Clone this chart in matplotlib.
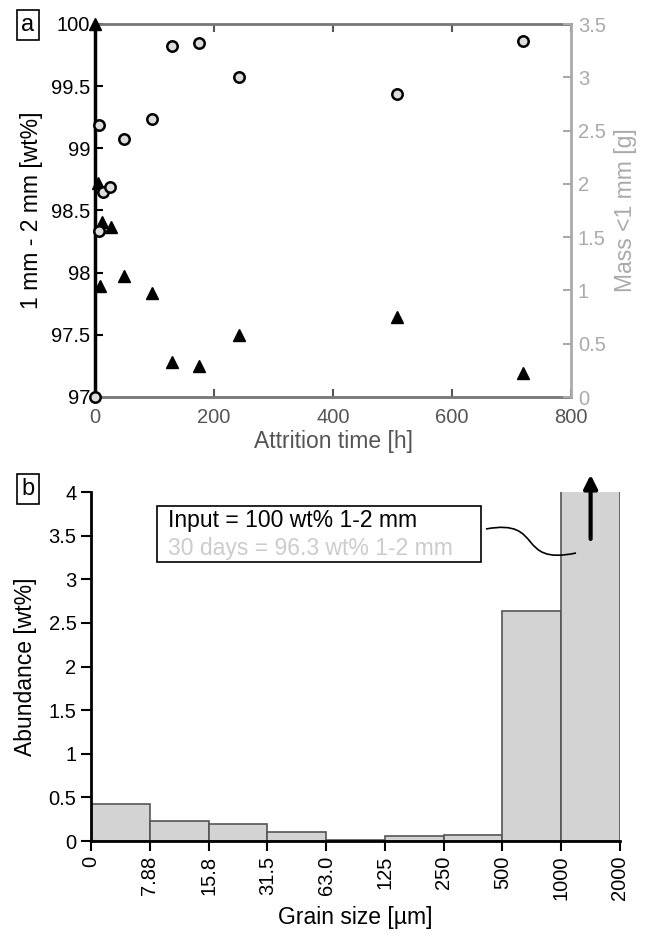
import numpy as np
import matplotlib
matplotlib.use('Agg')
import matplotlib.pyplot as plt
from matplotlib.path import Path
from matplotlib.patches import PathPatch, Rectangle
from matplotlib.ticker import FuncFormatter, MultipleLocator

plt.rcParams['font.family'] = ['Liberation Sans', 'DejaVu Sans']

# panel a: attrition series
time_wt = [0, 5, 8, 12, 27, 48, 96, 129, 175, 242, 507, 720]
wt_1to2 = [100.0, 98.72, 97.89, 98.41, 98.37, 97.97, 97.84, 97.28, 97.25, 97.50, 97.64, 97.19]
time_mass = [0, 7, 7, 13, 25, 48, 96, 129, 175, 242, 507, 720]
mass_lt1 = [0.0, 2.55, 1.56, 1.92, 1.97, 2.42, 2.61, 3.29, 3.32, 3.00, 2.84, 3.34]

# panel b: grain size distribution after 30 days
bin_edges = ['0', '7.88', '15.8', '31.5', '63.0', '125', '250', '500', '1000', '2000']
abundance = [0.42, 0.23, 0.20, 0.10, 0.01, 0.06, 0.07, 2.64, 96.3]
legend_lines = ['Input = 100 wt% 1-2 mm', '30 days = 96.3 wt% 1-2 mm']

W, H = 650, 938
fig = plt.figure(figsize=(W / 100, H / 100), dpi=100)

def fx(px):
    return px / W

def fy(py):
    return 1 - py / H

fmt = FuncFormatter(lambda v, p: '%g' % v)
tick_fs = 14.5
label_fs = 16.5
dark = '#555555'
light = '#aaaaaa'

# ---- panel a ----
ax = fig.add_axes([fx(95), fy(397), fx(571) - fx(95), fy(24) - fy(397)])
ax2 = ax.twinx()

ax.plot(time_wt, wt_1to2, '^', color='k', ms=8.5, clip_on=False, zorder=5)
ax2.plot(time_mass, mass_lt1, 'o', mfc='#dddddd', mec='k', mew=1.8, ms=7.5, clip_on=False, zorder=6)

ax.set_xlim(0, 800)
ax.set_ylim(97, 100)
ax2.set_ylim(0, 3.5)
ax.xaxis.set_major_locator(MultipleLocator(200))
ax.yaxis.set_major_locator(MultipleLocator(0.5))
ax2.yaxis.set_major_locator(MultipleLocator(0.5))
ax.yaxis.set_major_formatter(fmt)
ax2.yaxis.set_major_formatter(fmt)

ax.tick_params(axis='x', direction='in', top=True, length=6, width=1.5, colors=dark,
               labelsize=tick_fs, labelcolor=dark, pad=8)
ax.tick_params(axis='y', direction='in', length=6, width=1.5, color='k', labelsize=tick_fs)
ax2.tick_params(axis='y', direction='in', length=6, width=1.5, colors=light, labelsize=tick_fs,
                pad=5)

for s in ['top', 'bottom']:
    ax.spines[s].set_color('#777777')
    ax.spines[s].set_linewidth(2)
ax.spines['left'].set_color('k')
ax.spines['left'].set_linewidth(2.5)
ax.spines['right'].set_visible(False)
for s in ['top', 'bottom', 'left']:
    ax2.spines[s].set_visible(False)
ax2.spines['right'].set_color(light)
ax2.spines['right'].set_linewidth(2)

ax.set_xlabel('Attrition time [h]', fontsize=label_fs, color=dark, labelpad=2)
ax.set_ylabel('1 mm - 2 mm [wt%]', fontsize=label_fs, labelpad=6)
ax2.set_ylabel('Mass <1 mm [g]', fontsize=label_fs, color=light, labelpad=6)

# ---- panel b ----
bx = fig.add_axes([fx(91), fy(841), fx(620) - fx(91), fy(492) - fy(841)])
pos = np.arange(len(abundance)) + 0.5
bx.bar(pos, abundance, width=1, color='#d3d3d3', edgecolor='#555555', linewidth=1.2)
bx.set_xlim(0, len(abundance))
bx.set_ylim(0, 4)
bx.set_xticks(np.arange(len(bin_edges)))
bx.set_xticklabels(bin_edges, rotation=90)
bx.yaxis.set_major_locator(MultipleLocator(0.5))
bx.yaxis.set_major_formatter(fmt)
bx.tick_params(direction='out', length=7, width=1.5, labelsize=tick_fs)
bx.spines['top'].set_visible(False)
bx.spines['right'].set_visible(False)
bx.spines['left'].set_linewidth(2)
bx.spines['bottom'].set_linewidth(2)
bx.set_xlabel('Grain size [µm]', fontsize=label_fs, labelpad=4)
bx.set_ylabel('Abundance [wt%]', fontsize=label_fs, labelpad=8)

# arrow showing the off-scale 1-2 mm bar
bx.annotate('', xy=(pos[-1], 4.23), xytext=(pos[-1], 3.43),
            arrowprops=dict(arrowstyle='-|>', color='k', lw=3, mutation_scale=20),
            annotation_clip=False)

# legend-like text box
fig.patches.append(Rectangle((fx(157), fy(562)), fx(481) - fx(157), fy(506) - fy(562),
                             transform=fig.transFigure, fill=True, fc='white', ec='k', lw=1.2))
fig.text(fx(168), fy(520), legend_lines[0], fontsize=16.5, color='k', va='center')
fig.text(fx(168), fy(548), legend_lines[1], fontsize=16.5, color='#cccccc', va='center')

# connector from legend to the last bar
verts = [(fx(486), fy(529)), (fx(545), fy(518)), (fx(515), fy(566)), (fx(576), fy(553))]
curve = Path(verts, [Path.MOVETO, Path.CURVE4, Path.CURVE4, Path.CURVE4])
fig.patches.append(PathPatch(curve, transform=fig.transFigure, fill=False, lw=1.2, color='k'))

# panel letters
box = dict(boxstyle='square,pad=0.18', fc='white', ec='k', lw=1.2)
fig.text(fx(28), fy(25), 'a', fontsize=17, ha='center', va='center', bbox=box)
fig.text(fx(28), fy(489), 'b', fontsize=17, ha='center', va='center', bbox=box)

fig.savefig('out.png', dpi=100)
